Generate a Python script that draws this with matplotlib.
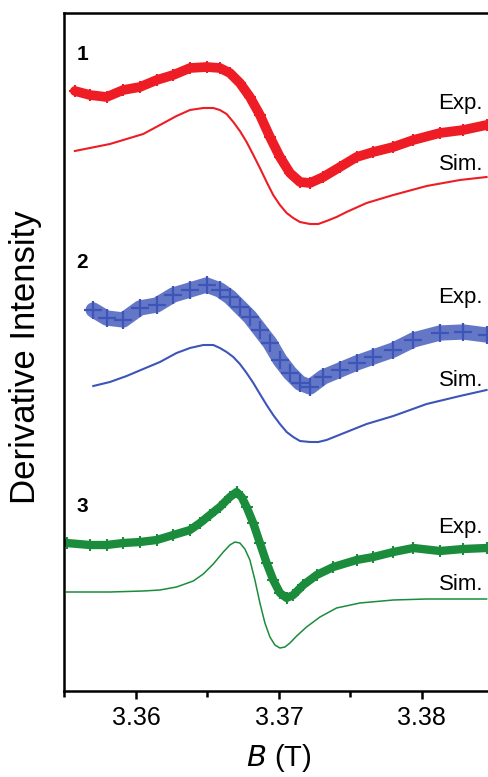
import matplotlib
matplotlib.use("Agg")
import matplotlib.pyplot as plt
from matplotlib.ticker import MultipleLocator

plt.rcParams["font.family"] = ["Liberation Sans", "DejaVu Sans"]

# ---- experimental traces (field in T, intensity in arbitrary offset units) ----
b_exp = [3.35573, 3.35678, 3.35795, 3.35911, 3.36028, 3.36145, 3.36261, 3.36378,
         3.36494, 3.36587, 3.36657, 3.36727, 3.36797, 3.36867, 3.36937, 3.37007,
         3.37077, 3.37147, 3.37217, 3.37310, 3.37427, 3.37543, 3.37660, 3.37800,
         3.37940, 3.38126, 3.38289, 3.38452]
b_exp2 = [3.35701] + b_exp[2:]
b_exp3 = [3.35515, 3.35678, 3.35795, 3.35911, 3.36028, 3.36145, 3.36261, 3.36378,
          3.36448, 3.36517, 3.36587, 3.36657, 3.36704, 3.36739, 3.36774, 3.36820,
          3.36867, 3.36914, 3.36960, 3.37007, 3.37054, 3.37100, 3.37170, 3.37264,
          3.37380, 3.37543, 3.37660, 3.37800, 3.37940, 3.38126, 3.38289, 3.38452]

exp1 = [600, 596, 594, 601, 604, 611, 616, 623, 624, 623, 618, 608, 594, 576,
        554, 534, 518, 509, 508, 514, 524, 534, 539, 544, 551, 558, 561, 566]
exp2 = [381, 373, 371, 383, 386, 396, 401, 406, 401, 394, 384, 374, 361, 348,
        331, 318, 308, 304, 314, 321, 328, 334, 341, 351, 358, 359, 356]
exp3 = [148, 146, 146, 148, 149, 151, 156, 161, 168, 176, 184, 194, 199, 194,
        184, 168, 148, 128, 111, 98, 93, 96, 106, 116, 124, 131, 134, 139,
        143, 140, 142, 143]

# ---- simulated traces ----
b_sim1 = [3.35573, 3.35818, 3.36051, 3.36168, 3.36284, 3.36378, 3.36471, 3.36541,
          3.36587, 3.36634, 3.36681, 3.36727, 3.36774, 3.36821, 3.36867, 3.36914,
          3.36960, 3.37007, 3.37054, 3.37100, 3.37147, 3.37217, 3.37275, 3.37333,
          3.37403, 3.37473, 3.37613, 3.37800, 3.38033, 3.38266, 3.38452]
sim1 = [540, 547, 557, 566, 575, 581, 583, 583, 581, 577, 569, 560, 549, 536,
        523, 509, 496, 486, 478, 473, 469, 467, 467, 470, 474, 479, 488, 496,
        505, 511, 514]

b_sim2 = [3.35702, 3.35818, 3.35935] + b_sim1[2:]
sim2 = [305, 309, 315, 322, 329, 338, 343, 346, 346, 343, 339, 334, 327, 318,
        308, 297, 286, 276, 267, 259, 254, 250, 249, 249, 251, 255, 259, 267,
        275, 287, 295, 301]

b_sim3 = [3.35515, 3.35818, 3.36051, 3.36168, 3.36284, 3.36401, 3.36471, 3.36541,
          3.36611, 3.36657, 3.36692, 3.36727, 3.36762, 3.36797, 3.36832, 3.36867,
          3.36902, 3.36937, 3.36972, 3.37007, 3.37042, 3.37077, 3.37124, 3.37193,
          3.37287, 3.37403, 3.37566, 3.37800, 3.38033, 3.38452]
sim3 = [99, 99, 100, 101, 104, 110, 117, 127, 139, 146, 149, 148, 142, 131,
        111, 88, 68, 54, 46, 43, 44, 48, 55, 64, 74, 83, 88, 91, 92, 92]

RED = "#ee1c24"
BLUE = "#3d55b8"
GREEN = "#1a8c3c"

fig = plt.figure(figsize=(4.88, 7.77), dpi=100)
ax = fig.add_axes([64 / 488, 86 / 777, 424 / 488, 678 / 777])

# experimental traces drawn as thick bands of crosses
ax.plot(b_exp, exp1, color=RED, lw=7, solid_capstyle="round", solid_joinstyle="round")
ax.plot(b_exp, exp1, "+", color=RED, ms=9, mew=1.5)
ax.plot(b_exp2, exp2, color=BLUE, lw=11, alpha=0.8, solid_capstyle="round",
        solid_joinstyle="round")
ax.plot(b_exp2, exp2, "+", color=BLUE, ms=13, mew=1.6)
ax.plot(b_exp3, exp3, color=GREEN, lw=6, solid_capstyle="round", solid_joinstyle="round")
ax.plot(b_exp3, exp3, "+", color=GREEN, ms=8, mew=1.5)

# simulations
ax.plot(b_sim1, sim1, color=RED, lw=1.5, solid_joinstyle="round")
ax.plot(b_sim2, sim2, color=BLUE, lw=1.5, solid_joinstyle="round")
ax.plot(b_sim3, sim3, color=GREEN, lw=1.1, solid_joinstyle="round")

ax.set_xlim(3.35497, 3.38462)
ax.set_ylim(0, 678)

for num, y in zip(["1", "2", "3"], [636, 429, 184]):
    ax.text(3.35625, y, num, fontsize=15, fontweight="bold", ha="center", va="center")

for y_exp, y_sim in [(588, 526), (394, 311), (164, 106)]:
    ax.text(3.38427, y_exp, "Exp.", fontsize=16, ha="right", va="center")
    ax.text(3.38427, y_sim, "Sim.", fontsize=16, ha="right", va="center")

ax.xaxis.set_major_locator(MultipleLocator(0.01))
ax.xaxis.set_minor_locator(MultipleLocator(0.005))
ax.xaxis.set_major_formatter(plt.FuncFormatter(lambda v, p: f"{v:.2f}"))
ax.tick_params(axis="x", which="major", direction="out", length=6, width=1.8,
               labelsize=18, pad=5)
ax.tick_params(axis="x", which="minor", direction="out", length=4, width=1.8)
ax.set_yticks([])

ax.spines["right"].set_visible(False)
for s in ["left", "top", "bottom"]:
    ax.spines[s].set_linewidth(1.8)

fig.text(279 / 488, 1 - 758 / 777, r"$B$ (T)", fontsize=21, ha="center", va="center")
fig.text(26 / 488, 1 - 357 / 777, "Derivative Intensity", fontsize=25,
         rotation=90, ha="center", va="center")

fig.savefig("out.png", dpi=100, facecolor="white")
